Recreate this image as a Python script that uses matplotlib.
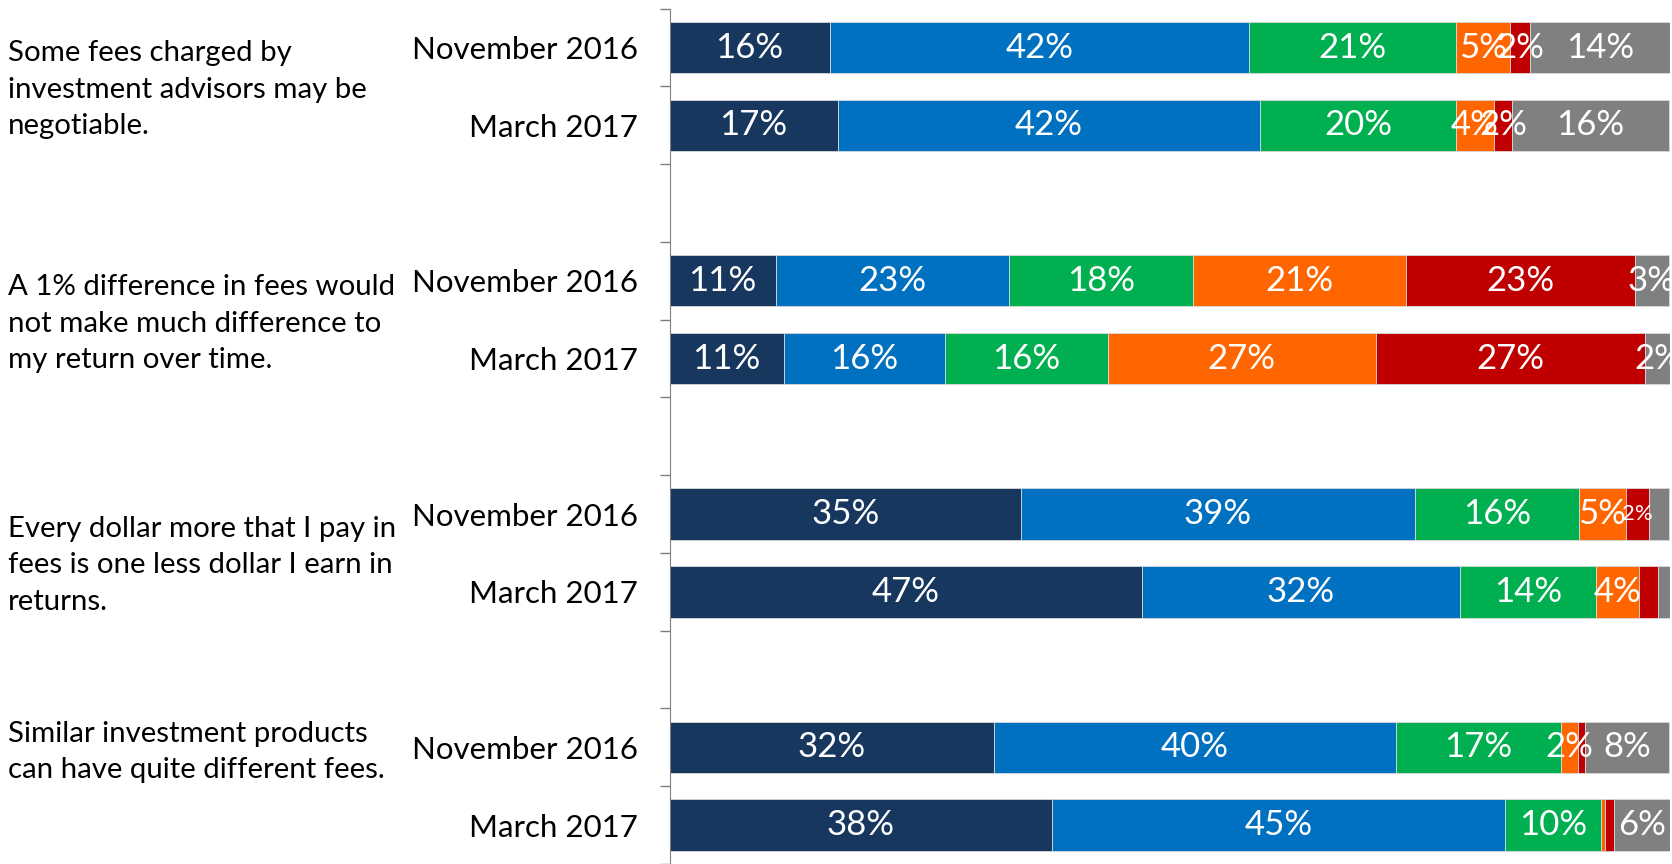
import matplotlib.pyplot as plt
from matplotlib.transforms import blended_transform_factory

plt.rcParams['font.family'] = ['Lato', 'DejaVu Sans']

statements = [
    "Some fees charged by\ninvestment advisors may be\nnegotiable.",
    "A 1% difference in fees would\nnot make much difference to\nmy return over time.",
    "Every dollar more that I pay in\nfees is one less dollar I earn in\nreturns.",
    "Similar investment products\ncan have quite different fees.",
]
waves = ["November 2016", "March 2017"]

# segment widths (%), in row order: statement 1 Nov, statement 1 Mar, ...
dark_navy = [16.0, 16.8, 10.6, 11.4, 35.1, 47.2, 32.4, 38.2]
blue = [41.9, 42.2, 23.3, 16.1, 39.4, 31.8, 40.2, 45.3]
green = [20.7, 19.6, 18.4, 16.3, 16.4, 13.6, 16.5, 9.6]
orange = [5.4, 3.8, 21.3, 26.8, 4.7, 4.3, 1.7, 0.4]
red = [2.0, 1.8, 22.9, 26.9, 2.3, 1.9, 0.7, 0.9]
gray = [14.0, 15.7, 3.4, 2.6, 2.0, 1.2, 8.4, 5.7]

# printed labels (None = no label shown)
dark_navy_lbl = [16, 17, 11, 11, 35, 47, 32, 38]
blue_lbl = [42, 42, 23, 16, 39, 32, 40, 45]
green_lbl = [21, 20, 18, 16, 16, 14, 17, 10]
orange_lbl = [5, 4, 21, 27, 5, 4, 2, None]
red_lbl = [2, 2, 23, 27, 2, None, None, None]
gray_lbl = [14, 16, 3, 2, None, None, 8, 6]

series = [
    (dark_navy, dark_navy_lbl, "#17375E"),
    (blue, blue_lbl, "#0070C0"),
    (green, green_lbl, "#00B050"),
    (orange, orange_lbl, "#FF6600"),
    (red, red_lbl, "#C00000"),
    (gray, gray_lbl, "#808080"),
]

# each statement takes two bar rows plus one blank row
rows = []
for g in range(len(statements)):
    rows += [g * 3, g * 3 + 1]
n_slots = len(statements) * 3 - 1

fig = plt.figure(figsize=(16.72, 8.64), dpi=100)
ax = fig.add_axes([0.4005, 0.0, 0.5983, 0.990])

left = [0.0] * len(rows)
for vals, lbls, col in series:
    ax.barh(rows, vals, left=left, height=0.66, color=col,
            edgecolor="#d9d9d9", linewidth=0.6)
    for y, v, l, lab in zip(rows, vals, left, lbls):
        if lab is None:
            continue
        small = (col == "#C00000" and y == 6)
        ax.text(l + v / 2, y, f"{lab}%", ha="center", va="center",
                color="white", fontsize=16 if small else 25)
    left = [a + b for a, b in zip(left, vals)]

ax.set_xlim(0, 100)
ax.set_ylim(n_slots - 0.5, -0.5)
ax.set_xticks([])
ax.set_yticks(rows)
ax.set_yticklabels(waves * len(statements), fontsize=22.5)
ax.tick_params(axis="y", which="major", length=0, pad=23)
ax.set_yticks([i - 0.5 for i in range(n_slots + 1)], minor=True)
ax.tick_params(axis="y", which="minor", length=7, width=1, color="#7f7f7f")
for s in ["top", "right", "bottom"]:
    ax.spines[s].set_visible(False)
ax.spines["left"].set_color("#7f7f7f")

# statement text blocks at the far left of the figure
trans = blended_transform_factory(fig.transFigure, ax.transData)
text_y = [0.54, 3.55, 6.66, 9.06]
for txt, y in zip(statements, text_y):
    ax.text(0.005, y, txt, transform=trans, ha="left", va="center",
            fontsize=21.2, linespacing=1.5)

fig.savefig("out.png", dpi=100)
